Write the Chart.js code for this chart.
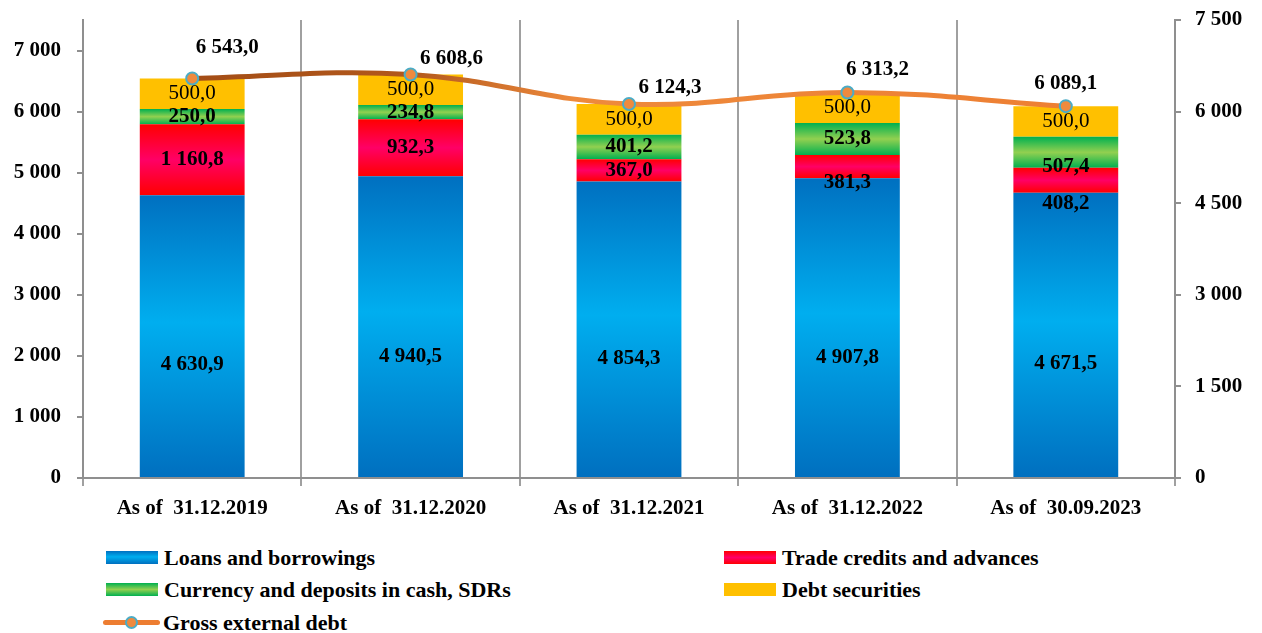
<!DOCTYPE html>
<html>
<head>
<meta charset="utf-8">
<script src="https://cdn.jsdelivr.net/npm/chart.js@4.4.1/dist/chart.umd.min.js"></script>
<style>
  html, body { margin: 0; padding: 0; background: #fff; }
  #wrap { position: relative; width: 1262px; height: 633px; }
  #chart { position: absolute; left: 0; top: 0; }
  .legend-item { position: absolute; height: 33px; display: flex; align-items: center;
    font-family: "Liberation Serif", serif; font-weight: bold; font-size: 22px; color: #000; white-space: nowrap; }
  .legend-box { width: 52px; height: 13px; margin-right: 6px; }
  .legend-line { position: relative; width: 57px; height: 13px; margin-right: 3px; }
  .legend-line .bar { position: absolute; left: 0; right: 0; top: 4px; height: 5px; border-radius: 3px; background: #ed7d31; }
  .legend-line .dot { position: absolute; left: 22px; top: 0; width: 9px; height: 9px; border-radius: 50%;
    background: #ef8a3e; border: 2px solid #4bacc6; }
</style>
</head>
<body>
<div id="wrap">
  <canvas id="chart" width="1262" height="535"></canvas>
  <div id="legend"></div>
</div>
<script>
"use strict";

const categories = ["As of  31.12.2019", "As of  31.12.2020", "As of  31.12.2021", "As of  31.12.2022", "As of  30.09.2023"];
const loansAndBorrowings = [4630.9, 4940.5, 4854.3, 4907.8, 4671.5];
const tradeCredits = [1160.8, 932.3, 367.0, 381.3, 408.2];
const currencyDeposits = [250.0, 234.8, 401.2, 523.8, 507.4];
const debtSecurities = [500.0, 500.0, 500.0, 500.0, 500.0];
const grossExternalDebt = [6543.0, 6608.6, 6124.3, 6313.2, 6089.1];
const leftTicks = [0, 1000, 2000, 3000, 4000, 5000, 6000, 7000];
const rightTicks = [0, 1500, 3000, 4500, 6000, 7500];

// label nudges (pixels), styling only
const barLabelNudge = [
  [0, 0, 0, 0, 0],
  [0, 0, 0, 16, 23],
  [0, 0, 0, 0, 14],
  [0, 0, 0, 0, 0],
];
const grossLabelOffset = [[35, -31], [41, -16], [41, -16], [30, -23], [0, -23]];

const FONT = '"Liberation Serif", serif';

const fmt = (v, dec) => {
  const parts = v.toFixed(dec).split(".");
  const intPart = parts[0].replace(/\B(?=(\d{3})+(?!\d))/g, " ");
  return parts.length > 1 ? intPart + "," + parts[1] : intPart;
};

const gradientFill = (stops) => (c) => {
  const chart = c.chart;
  if (c.type !== "data" || !chart.chartArea) return stops[0][1];
  let base = 0;
  for (let d = 0; d < c.datasetIndex; d++) base += chart.data.datasets[d].data[c.dataIndex];
  const top = base + chart.data.datasets[c.datasetIndex].data[c.dataIndex];
  const ys = chart.scales.y;
  const g = chart.ctx.createLinearGradient(0, ys.getPixelForValue(top), 0, ys.getPixelForValue(base));
  stops.forEach(([p, col]) => g.addColorStop(p, col));
  return g;
};

const blueStops = [[0, "#0070c0"], [0.45, "#00aeef"], [1, "#006fbf"]];
const redStops = [[0, "#ff0000"], [0.5, "#ff0066"], [1, "#ff0000"]];
const greenStops = [[0, "#00b050"], [0.5, "#92d050"], [1, "#00b050"]];
const yellowStops = [[0, "#ffc000"], [1, "#ffc000"]];

const lineStroke = (c) => {
  const area = c.chart.chartArea;
  if (!area) return "#ed7d31";
  const g = c.chart.ctx.createLinearGradient(area.left, 0, area.right, 0);
  g.addColorStop(0, "#9c4712");
  g.addColorStop(0.3, "#b2581c");
  g.addColorStop(0.45, "#ee8a3c");
  g.addColorStop(1, "#ed7d31");
  return g;
};

const valueLabels = {
  id: "valueLabels",
  afterDatasetsDraw(chart) {
    const ctx = chart.ctx;
    ctx.save();
    ctx.fillStyle = "#000";
    ctx.textAlign = "center";
    ctx.textBaseline = "middle";
    chart.data.datasets.forEach((ds, di) => {
      const meta = chart.getDatasetMeta(di);
      meta.data.forEach((el, i) => {
        const v = ds.data[i];
        if (ds.type === "line") {
          ctx.font = "bold 21px " + FONT;
          const [dx, dy] = grossLabelOffset[i];
          ctx.fillText(fmt(v, 1), el.x + dx, el.y + dy);
        } else {
          ctx.font = (di === 3 ? "21px " : "bold 21px ") + FONT;
          const y = di === 0 ? el.base + (el.y - el.base) * 0.4 : (el.y + el.base) / 2;
          ctx.fillText(fmt(v, 1), el.x, y + barLabelNudge[di][i]);
        }
      });
    });
    ctx.restore();
  },
};

const axisGrey = "#8f8f8f";
const tickFont = { family: FONT, size: 21, weight: "bold" };

const fitSide = (w) => (s) => {
  s.width = w;
  s.paddingTop = 0;
  s.paddingBottom = 0;
};

const chart = new Chart(document.getElementById("chart"), {
  type: "bar",
  data: {
    labels: categories,
    datasets: [
      { label: "Loans and borrowings", data: loansAndBorrowings, backgroundColor: gradientFill(blueStops), order: 1, stops: blueStops },
      { label: "Trade credits and advances", data: tradeCredits, backgroundColor: gradientFill(redStops), order: 1, stops: redStops },
      { label: "Currency and deposits in cash, SDRs", data: currencyDeposits, backgroundColor: gradientFill(greenStops), order: 1, stops: greenStops },
      { label: "Debt securities", data: debtSecurities, backgroundColor: gradientFill(yellowStops), order: 1, stops: yellowStops },
      {
        type: "line", label: "Gross external debt", data: grossExternalDebt, yAxisID: "y1", order: 0,
        borderColor: lineStroke, borderWidth: 5, tension: 0.4, fill: false,
        pointRadius: 6, pointBackgroundColor: "#ef8a3e", pointBorderColor: "#4bacc6", pointBorderWidth: 2,
      },
    ],
  },
  options: {
    responsive: false,
    animation: false,
    categoryPercentage: 0.8,
    barPercentage: 0.6,
    layout: { padding: { top: 20, bottom: 0, left: 0, right: 0 } },
    plugins: { legend: { display: false }, tooltip: { enabled: false } },
    scales: {
      x: {
        stacked: true,
        grid: { offset: true, color: "#a0a0a0", lineWidth: 2, tickLength: 8 },
        border: { color: axisGrey, width: 2 },
        ticks: { font: { family: FONT, size: 21, weight: "bold" }, color: "#000", padding: 10, maxRotation: 0 },
        afterFit: (s) => { s.height = 57; },
      },
      y: {
        stacked: true,
        min: 0, max: 7500,
        afterBuildTicks: (s) => { s.ticks = leftTicks.map((value) => ({ value })); },
        ticks: { font: tickFont, color: "#000", padding: 16, callback: (v) => fmt(v, 0) },
        grid: { drawOnChartArea: false, color: axisGrey, lineWidth: 2, tickLength: 6 },
        border: { color: axisGrey, width: 2 },
        afterFit: fitSide(83),
      },
      y1: {
        position: "right",
        min: 0, max: 7500,
        afterBuildTicks: (s) => { s.ticks = rightTicks.map((value) => ({ value })); },
        ticks: { font: tickFont, color: "#000", padding: 14, callback: (v) => fmt(v, 0) },
        grid: { drawOnChartArea: false, color: axisGrey, lineWidth: 2, tickLength: 6 },
        border: { color: axisGrey, width: 2 },
        afterFit: fitSide(87),
      },
    },
  },
  plugins: [valueLabels],
});

// legend in two columns, built from the chart's datasets
const legendEl = document.getElementById("legend");
const slots = [[103, 541], [721, 541], [103, 573], [721, 573], [103, 606]];
chart.data.datasets.forEach((ds, i) => {
  const item = document.createElement("div");
  item.className = "legend-item";
  item.style.left = slots[i][0] + "px";
  item.style.top = slots[i][1] + "px";
  if (ds.type === "line") {
    const mk = document.createElement("div");
    mk.className = "legend-line";
    mk.innerHTML = '<div class="bar"></div><div class="dot"></div>';
    item.appendChild(mk);
  } else {
    const box = document.createElement("div");
    box.className = "legend-box";
    box.style.marginLeft = "3px";
    box.style.background = "linear-gradient(to bottom, " + ds.stops.map(([p, c]) => c + " " + p * 100 + "%").join(", ") + ")";
    item.appendChild(box);
  }
  const txt = document.createElement("span");
  txt.textContent = ds.label;
  item.appendChild(txt);
  legendEl.appendChild(item);
});
</script>
</body>
</html>
